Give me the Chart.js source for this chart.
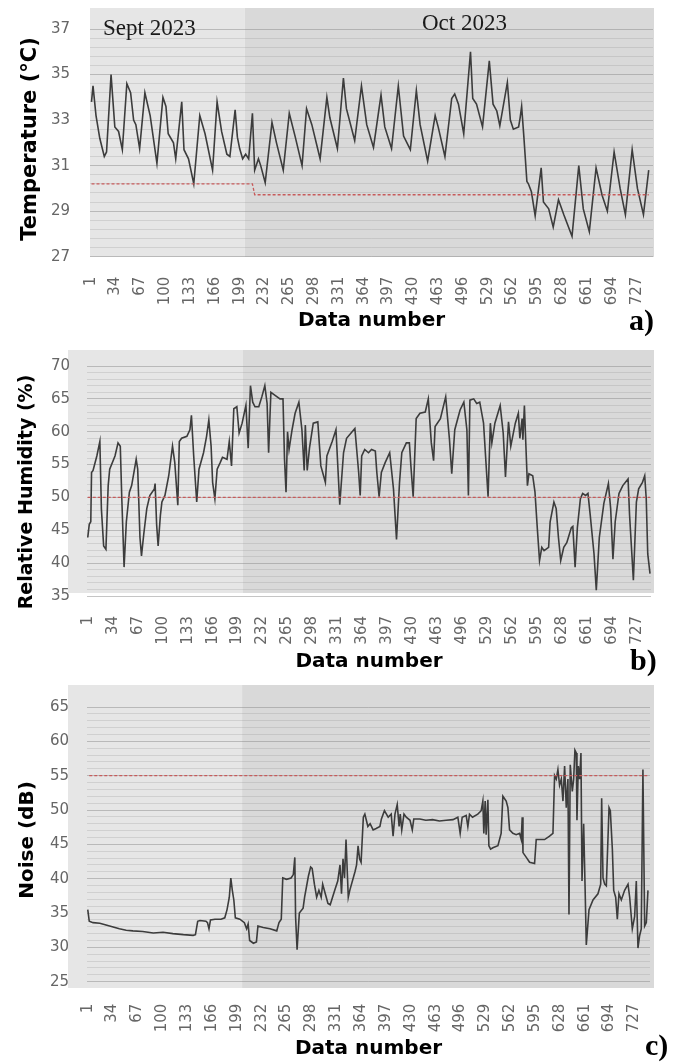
<!DOCTYPE html>
<html>
<head>
<meta charset="utf-8">
<script src="https://cdn.jsdelivr.net/npm/chart.js@4.4.1/dist/chart.umd.min.js"></script>
<style>
  html, body { margin: 0; padding: 0; background: #fff; }
  #wrap { position: relative; width: 679px; height: 1062px; }
  canvas { position: absolute; left: 0; }
</style>
</head>
<body>
<div id="wrap">
  <canvas id="chartTemp" width="679" height="340" style="top:0px"></canvas>
  <canvas id="chartHum" width="679" height="340" style="top:340px"></canvas>
  <canvas id="chartNoise" width="679" height="382" style="top:680px"></canvas>
</div>
<script>
// tick labels of the category axis (data number)
const xTickLabels = [1, 34, 67, 100, 133, 166, 199, 232, 265, 298, 331, 364, 397, 430, 463, 496, 529, 562, 595, 628, 661, 694, 727];
const octStart = 206; // first data number of October 2023

// a) temperature
const tempTicks = [27, 29, 31, 33, 35, 37];
const tempN = [2, 4, 8, 13, 19, 22, 28, 33, 38, 43, 49, 54, 58, 61, 66, 73, 80, 89, 97, 101, 104, 111, 114, 122, 125, 131, 138,
  146, 153, 163, 169, 175, 182, 186, 193, 196, 199, 203, 207, 211, 216, 219, 224, 227, 233, 242, 248, 257, 265, 273, 282,
  288, 295, 306, 315, 319, 329, 337, 341, 352, 361, 368, 377, 387, 392, 401, 410, 417, 426, 434, 439, 449, 459, 463, 472,
  481, 485, 490, 497, 506, 509, 514, 522, 531, 536, 541, 545, 555, 559, 563, 570, 572, 574, 577, 581, 583, 587, 592, 600,
  603, 610, 616, 623, 630, 641, 650, 656, 664, 673, 681, 688, 697, 705, 712, 721, 728, 736, 743];
const tempVal = [33.8, 34.5, 33.2, 32.2, 31.4, 31.6, 35.0, 32.7, 32.5, 31.7, 34.6, 34.2, 33.0, 32.8, 31.75, 34.2, 33.2, 31.1, 34.0, 33.6, 32.4, 32.0, 31.3, 33.8, 31.7, 31.3, 30.2,
  33.2, 32.4, 30.8, 33.8, 32.5, 31.5, 31.4, 33.45, 32.25, 31.75, 31.3, 31.5, 31.3, 33.3, 30.8, 31.3, 31.0, 30.25, 32.9, 32.0, 30.8, 33.3, 32.25, 31.0,
  33.5, 32.8, 31.3, 34.0, 33.1, 31.75, 34.85, 33.5, 32.1, 34.5, 32.8, 31.8, 34.1, 32.7, 31.75, 34.5, 32.3, 31.7, 34.3, 32.8, 31.2, 33.2, 32.7, 31.4,
  33.95, 34.15, 33.7, 32.4, 36.0, 33.95, 33.7, 32.7, 35.6, 33.7, 33.4, 32.75, 34.65, 33.0, 32.6, 32.7, 33.1, 33.6, 32.25, 30.3, 30.2, 29.85, 28.8, 30.9,
  29.4, 29.1, 28.3, 29.5, 28.85, 27.9, 31.0, 29.1, 28.1, 30.9, 29.7, 29.0, 31.6, 30.0, 28.85, 31.7, 30.0, 28.85, 30.8];
const tempLimitN = [2, 216, 219, 743];
const tempLimitVal = [30.2, 30.2, 29.72, 29.72];

// b) relative humidity
const humTicks = [35, 40, 45, 50, 55, 60, 65, 70];
const humN = [1, 3, 5, 6, 8, 13, 17, 19, 22, 25, 28, 30, 37, 41, 44, 46, 49, 52, 56, 59, 65, 67, 70, 72, 75, 79, 83, 89, 90, 92, 94,
  97, 99, 103, 108, 113, 116, 120, 122, 125, 132, 136, 138, 141, 145, 148, 154, 158, 161, 164, 166, 169, 172, 176, 179, 185,
  188, 191, 194, 198, 201, 205, 210, 213, 216, 219, 222, 227, 231, 235, 238, 240, 243, 249, 255, 259, 261, 263, 265, 267,
  271, 275, 280, 284, 287, 288.5, 291, 294, 299, 305, 309, 315, 317, 324, 329, 334, 339, 343, 354, 359, 361, 363, 367, 372,
  376, 381, 383, 386, 389, 394, 400, 405, 409, 413, 416, 422, 426, 428, 431, 435, 440, 447, 451, 455, 458, 460, 467, 474,
  479, 482, 486, 493, 498, 502, 504, 506, 511, 515, 519, 524, 530, 533, 535, 539, 546, 550, 553, 557, 560, 566, 570, 572,
  575, 576, 578, 580, 582, 584, 589, 592, 595, 598, 601, 604, 610, 612, 617, 620, 623, 626, 630, 634, 640, 642, 645, 648,
  652, 655, 659, 662, 665, 670, 673, 677, 683, 689, 692, 695, 698, 703, 708, 715, 717, 722, 726, 729, 734, 737, 739, 741, 744];
const humVal = [43.9, 45.9, 46.3, 53.8, 54.1, 56.3, 58.5, 48.3, 42.6, 42.1, 51.8, 54.3, 56.3, 58.3, 57.8, 49.8, 39.4, 46.3, 50.8, 51.8, 55.8, 54.3, 43.9, 41.1, 44.4, 48.3, 50.3, 51.3, 52.1, 45.9, 42.6,
  47.3, 49.3, 50.3, 53.3, 57.8, 55.3, 48.8, 58.5, 59.0, 59.3, 60.3, 62.5, 56.3, 49.3, 54.3, 56.8, 59.3, 61.8, 57.8, 52.3, 49.8, 54.3, 55.3, 56.1, 55.8,
  58.5, 54.8, 63.5, 63.8, 59.8, 61.3, 64.0, 57.5, 67.0, 64.5, 63.8, 63.8, 65.3, 67.0, 64.3, 56.8, 66.0, 65.5, 65.0, 65.0, 55.8, 50.8, 60.0, 57.3,
  60.3, 62.8, 64.5, 60.3, 54.1, 61.0, 54.1, 57.5, 61.3, 61.5, 54.8, 52.3, 56.3, 58.5, 60.3, 48.9, 56.8, 59.0, 60.5, 53.8, 50.3, 56.3, 57.3, 56.8,
  57.3, 57.05, 53.8, 50.1, 53.8, 55.3, 56.8, 51.3, 43.6, 52.3, 56.8, 58.3, 58.3, 54.8, 50.1, 62.0, 62.8, 63.0, 65.0, 58.3, 55.6, 60.8, 62.0, 65.3,
  58.8, 53.6, 60.3, 63.3, 64.5, 60.3, 50.3, 64.8, 65.0, 64.3, 64.5, 61.3, 50.1, 61.3, 58.3, 61.3, 64.0, 59.8, 53.1, 61.5, 57.8, 61.3, 62.8, 59.0,
  62.0, 58.8, 64.0, 57.8, 51.8, 53.6, 53.3, 50.8, 45.4, 40.4, 42.4, 41.9, 42.4, 46.3, 49.3, 48.3, 43.9, 40.4, 42.4, 43.1, 45.4, 45.6, 39.4, 45.4,
  49.8, 50.6, 50.3, 50.6, 47.3, 41.4, 35.9, 43.9, 49.1, 52.1, 48.3, 40.6, 46.3, 50.6, 51.8, 52.8, 47.3, 37.4, 49.3, 51.3, 52.3, 53.3, 49.8, 41.4, 38.4];
const humLimitN = [1, 744];
const humLimitVal = [50, 50];

// c) noise
const noiseTicks = [25, 30, 35, 40, 45, 50, 55, 60, 65];
const noiseN = [1, 3, 8, 17, 30, 43, 52, 61, 74, 88, 101, 114, 128, 141, 144, 147, 150, 158, 160, 162, 164, 170, 178, 183, 186,
  189, 191, 193, 195, 197, 203, 209, 212, 214, 216, 221, 225, 227, 234, 243, 252, 255, 258, 260, 265, 271, 274, 276, 277,
  279, 282, 287, 289, 294, 297, 299, 302, 305, 308, 311, 313, 317, 320, 323, 329, 333, 336, 338, 340, 342, 344, 347, 349,
  356, 358, 360, 362, 364, 367, 369, 371, 373, 376, 380, 384, 389, 391, 395, 400, 404, 406.5, 409, 412, 414.5, 416, 418,
  421, 424, 429, 432, 434, 442, 450, 459, 468, 477, 486, 492.5, 495.6, 498.3, 503.6, 505.8, 508, 512, 519, 523.5, 525.7,
  527, 528.8, 530.1, 532.4, 533.7, 536, 539, 545.7, 550, 552.3, 556.7, 559, 561.2, 565.6, 570, 574.5, 576.7, 578, 579,
  583.4, 587.8, 594.4, 596.6, 601, 607.7, 614.3, 618.8, 621, 623.2, 625.4, 627.6, 629.9, 632.1, 634.3, 636.5, 638.7, 640.1,
  641.8, 644.5, 646.3, 648, 649.8, 650.7, 652.5, 654.3, 656, 657.4, 659.6, 661.4, 663.1, 666.7, 672, 678.6, 682.2, 683.5,
  685.3, 687.5, 689.7, 693.3, 695, 697.7, 699.5, 702.1, 704.3, 706.5, 709.6, 714, 718.5, 720.7, 724.2, 727.3, 729.5, 731.7,
  733.9, 736.1, 738.3, 740.6, 742.8, 745];
const noiseVal = [35.5, 33.8, 33.6, 33.5, 33.1, 32.7, 32.5, 32.4, 32.3, 32.1, 32.2, 32.0, 31.85, 31.75, 31.85, 33.8, 33.9, 33.8, 33.6, 32.7, 34.0, 34.1, 34.1, 34.3, 35.5,
  37.3, 40.1, 38.3, 36.9, 34.3, 34.1, 33.6, 32.7, 33.4, 31.0, 30.6, 30.8, 33.1, 32.9, 32.7, 32.4, 33.6, 34.1, 40.1, 39.9, 40.1, 40.6, 43.1, 34.5,
  29.65, 35.0, 35.7, 37.3, 40.35, 41.7, 41.5, 39.2, 37.3, 38.3, 37.3, 39.2, 37.6, 36.4, 36.2, 38.3, 39.65, 42.0, 37.8, 42.9, 40.1, 45.7, 37.3, 38.3,
  41.05, 42.0, 44.8, 42.9, 42.4, 48.95, 49.4, 48.5, 47.6, 48.0, 47.1, 47.3, 47.6, 48.7, 49.9, 48.95, 49.4, 46.2, 49.4, 50.8, 47.6, 49.4, 47.1,
  49.4, 48.95, 48.5, 47.1, 48.7, 48.7, 48.5, 48.6, 48.4, 48.5, 48.6, 48.95, 46.6, 48.95, 49.2, 47.6, 49.4, 48.95, 49.4, 49.9, 51.3,
  46.6, 51.3, 46.4, 51.5, 44.8, 44.3, 44.5, 44.8, 46.6, 52.0, 51.3, 50.35, 47.1, 46.6, 46.4, 46.6, 45.7, 48.95, 43.8,
  43.1, 42.4, 42.2, 45.7, 45.7, 45.7, 46.2, 46.6, 55.0, 54.5, 55.9, 53.6, 54.5, 51.3, 56.4, 50.35, 54.5, 34.8,
  56.6, 52.7, 54.5, 58.7, 58.3, 48.5, 56.4, 54.5, 58.3, 39.65, 48.0, 39.2, 30.35, 35.5, 36.9, 37.8, 39.2, 51.7,
  40.1, 39.2, 38.95, 50.35, 49.9, 44.3, 38.3, 37.3, 34.1, 37.8, 36.9, 38.3, 39.2, 37.3, 32.7, 34.5, 39.65, 29.9,
  31.7, 32.7, 55.9, 33.1, 33.6, 38.3];
const noiseLimitN = [3, 745];
const noiseLimitVal = [55, 55];

const pts = (xs, ys) => xs.map((x, i) => ({ x: x, y: ys[i] }));

// gray plot box, lighter for September, darker for October
function makeBg(box) {
  return {
    id: 'panelBg',
    beforeDraw(chart) {
      const ctx = chart.ctx;
      const [x0, y0, x1, y1] = box;
      const xs = chart.scales.x.getPixelForValue(octStart);
      ctx.save();
      ctx.fillStyle = '#e6e6e6';
      ctx.fillRect(x0, y0, xs - x0, y1 - y0);
      ctx.fillStyle = '#d9d9d9';
      ctx.fillRect(xs, y0, x1 - xs, y1 - y0);
      ctx.restore();
    }
  };
}

// free texts: axis titles, month names, panel letters
function makeNotes(items) {
  return {
    id: 'notes',
    afterDraw(chart) {
      const ctx = chart.ctx;
      items.forEach(it => {
        ctx.save();
        ctx.font = it.font;
        ctx.fillStyle = it.color || '#000';
        ctx.textAlign = it.align || 'left';
        ctx.textBaseline = it.baseline || 'alphabetic';
        ctx.translate(it.x, it.y);
        if (it.rotate) ctx.rotate(it.rotate);
        ctx.fillText(it.text, 0, 0);
        ctx.restore();
      });
    }
  };
}

const tickFont = { family: 'DejaVu Sans', size: 15 };
const tickColor = '#666666';

function makePanel(id, cfg) {
  const isMajor = v => cfg.majors.some(m => Math.abs(m - v) < 1e-6);
  return new Chart(document.getElementById(id), {
    type: 'line',
    data: {
      datasets: [{
        data: pts(cfg.limitN, cfg.limitVal),
        borderColor: '#c75b5b',
        borderWidth: 1.3,
        borderDash: [3, 2],
        pointRadius: 0
      }, {
        data: pts(cfg.n, cfg.val),
        borderColor: '#3c3c3c',
        borderWidth: 1.6,
        pointRadius: 0,
        tension: 0
      }]
    },
    options: {
      responsive: false,
      animation: false,
      devicePixelRatio: 1,
      layout: { padding: { top: cfg.area.top, right: 679 - cfg.area.right, left: 0, bottom: 0 } },
      plugins: { legend: { display: false }, tooltip: { enabled: false } },
      scales: {
        x: {
          type: 'linear',
          min: cfg.xMin,
          max: cfg.xMax,
          grid: { display: false },
          border: { display: false },
          afterBuildTicks: s => { s.ticks = xTickLabels.map(v => ({ value: v })); },
          afterFit: s => { s.height = cfg.canvasH - cfg.area.bottom; },
          ticks: {
            autoSkip: false, minRotation: 90, maxRotation: 90,
            padding: cfg.xTickPad, color: tickColor, font: tickFont,
            callback: v => String(v)
          },
          title: {
            display: true, text: 'Data number', color: '#000',
            font: { family: 'DejaVu Sans', size: 20, weight: 'bold' },
            padding: { top: 0, bottom: cfg.titlePad }
          }
        },
        y: {
          min: cfg.yMin,
          max: cfg.yMax,
          afterBuildTicks: s => {
            const t = [];
            for (let v = cfg.yMin; v <= cfg.yMax + 1e-9; v += cfg.minorStep) t.push({ value: Math.round(v * 100) / 100 });
            s.ticks = t;
          },
          afterFit: s => { s.width = cfg.area.left; },
          grid: {
            drawTicks: false,
            lineWidth: 1,
            color: c => isMajor(c.tick.value) ? 'rgba(140,140,140,0.5)' : 'rgba(150,150,150,0.28)'
          },
          border: { display: false },
          ticks: {
            autoSkip: false, padding: cfg.yTickPad, color: tickColor, font: tickFont,
            callback: v => isMajor(v) ? String(v) : ''
          }
        }
      }
    },
    plugins: [makeBg(cfg.box), makeNotes(cfg.notes)]
  });
}

const titleFont = s => 'bold ' + s + 'px "DejaVu Sans"';

makePanel('chartTemp', {
  n: tempN, val: tempVal, limitN: tempLimitN, limitVal: tempLimitVal,
  majors: tempTicks, yMin: 27, yMax: 37, minorStep: 0.4,
  xMin: 0, xMax: 748.7, canvasH: 340,
  area: { left: 90, right: 653, top: 21.7, bottom: 256.7 },
  box: [90, 8, 654, 257], titlePad: 7, xTickPad: 12, yTickPad: 20,
  notes: [
    { text: 'Temperature (°C)', x: 31, y: 139, rotate: -Math.PI / 2, align: 'center', baseline: 'middle', font: titleFont(21) },
    { text: 'Sept 2023', x: 103, y: 34.5, font: '23px "Liberation Serif"', color: '#1a1a1a' },
    { text: 'Oct 2023', x: 422, y: 29.5, font: '23px "Liberation Serif"', color: '#1a1a1a' },
    { text: 'a)', x: 629, y: 330, font: 'bold 30px "Liberation Serif"' }
  ]
});

makePanel('chartHum', {
  n: humN, val: humVal, limitN: humLimitN, limitVal: humLimitVal,
  majors: humTicks, yMin: 35, yMax: 70, minorStep: 1,
  xMin: 0, xMax: 745.3, canvasH: 340,
  area: { left: 87, right: 651, top: 21.7, bottom: 256 },
  box: [68, 10, 654, 253], titlePad: 6, xTickPad: 12, yTickPad: 17,
  notes: [
    { text: 'Relative Humidity (%)', x: 27, y: 152, rotate: -Math.PI / 2, align: 'center', baseline: 'middle', font: titleFont(19) },
    { text: 'b)', x: 630, y: 330, font: 'bold 30px "Liberation Serif"' }
  ]
});

makePanel('chartNoise', {
  n: noiseN, val: noiseVal, limitN: noiseLimitN, limitVal: noiseLimitVal,
  majors: noiseTicks, yMin: 25, yMax: 65, minorStep: 1,
  xMin: 0, xMax: 747.7, canvasH: 382,
  area: { left: 87, right: 650, top: 15.7, bottom: 301.7 },
  box: [68, 5, 654, 308], titlePad: 1, xTickPad: 14, yTickPad: 18,
  notes: [
    { text: 'Noise (dB)', x: 28, y: 160, rotate: -Math.PI / 2, align: 'center', baseline: 'middle', font: titleFont(20) },
    { text: 'c)', x: 645, y: 375, font: 'bold 30px "Liberation Serif"' }
  ]
});
</script>
</body>
</html>
